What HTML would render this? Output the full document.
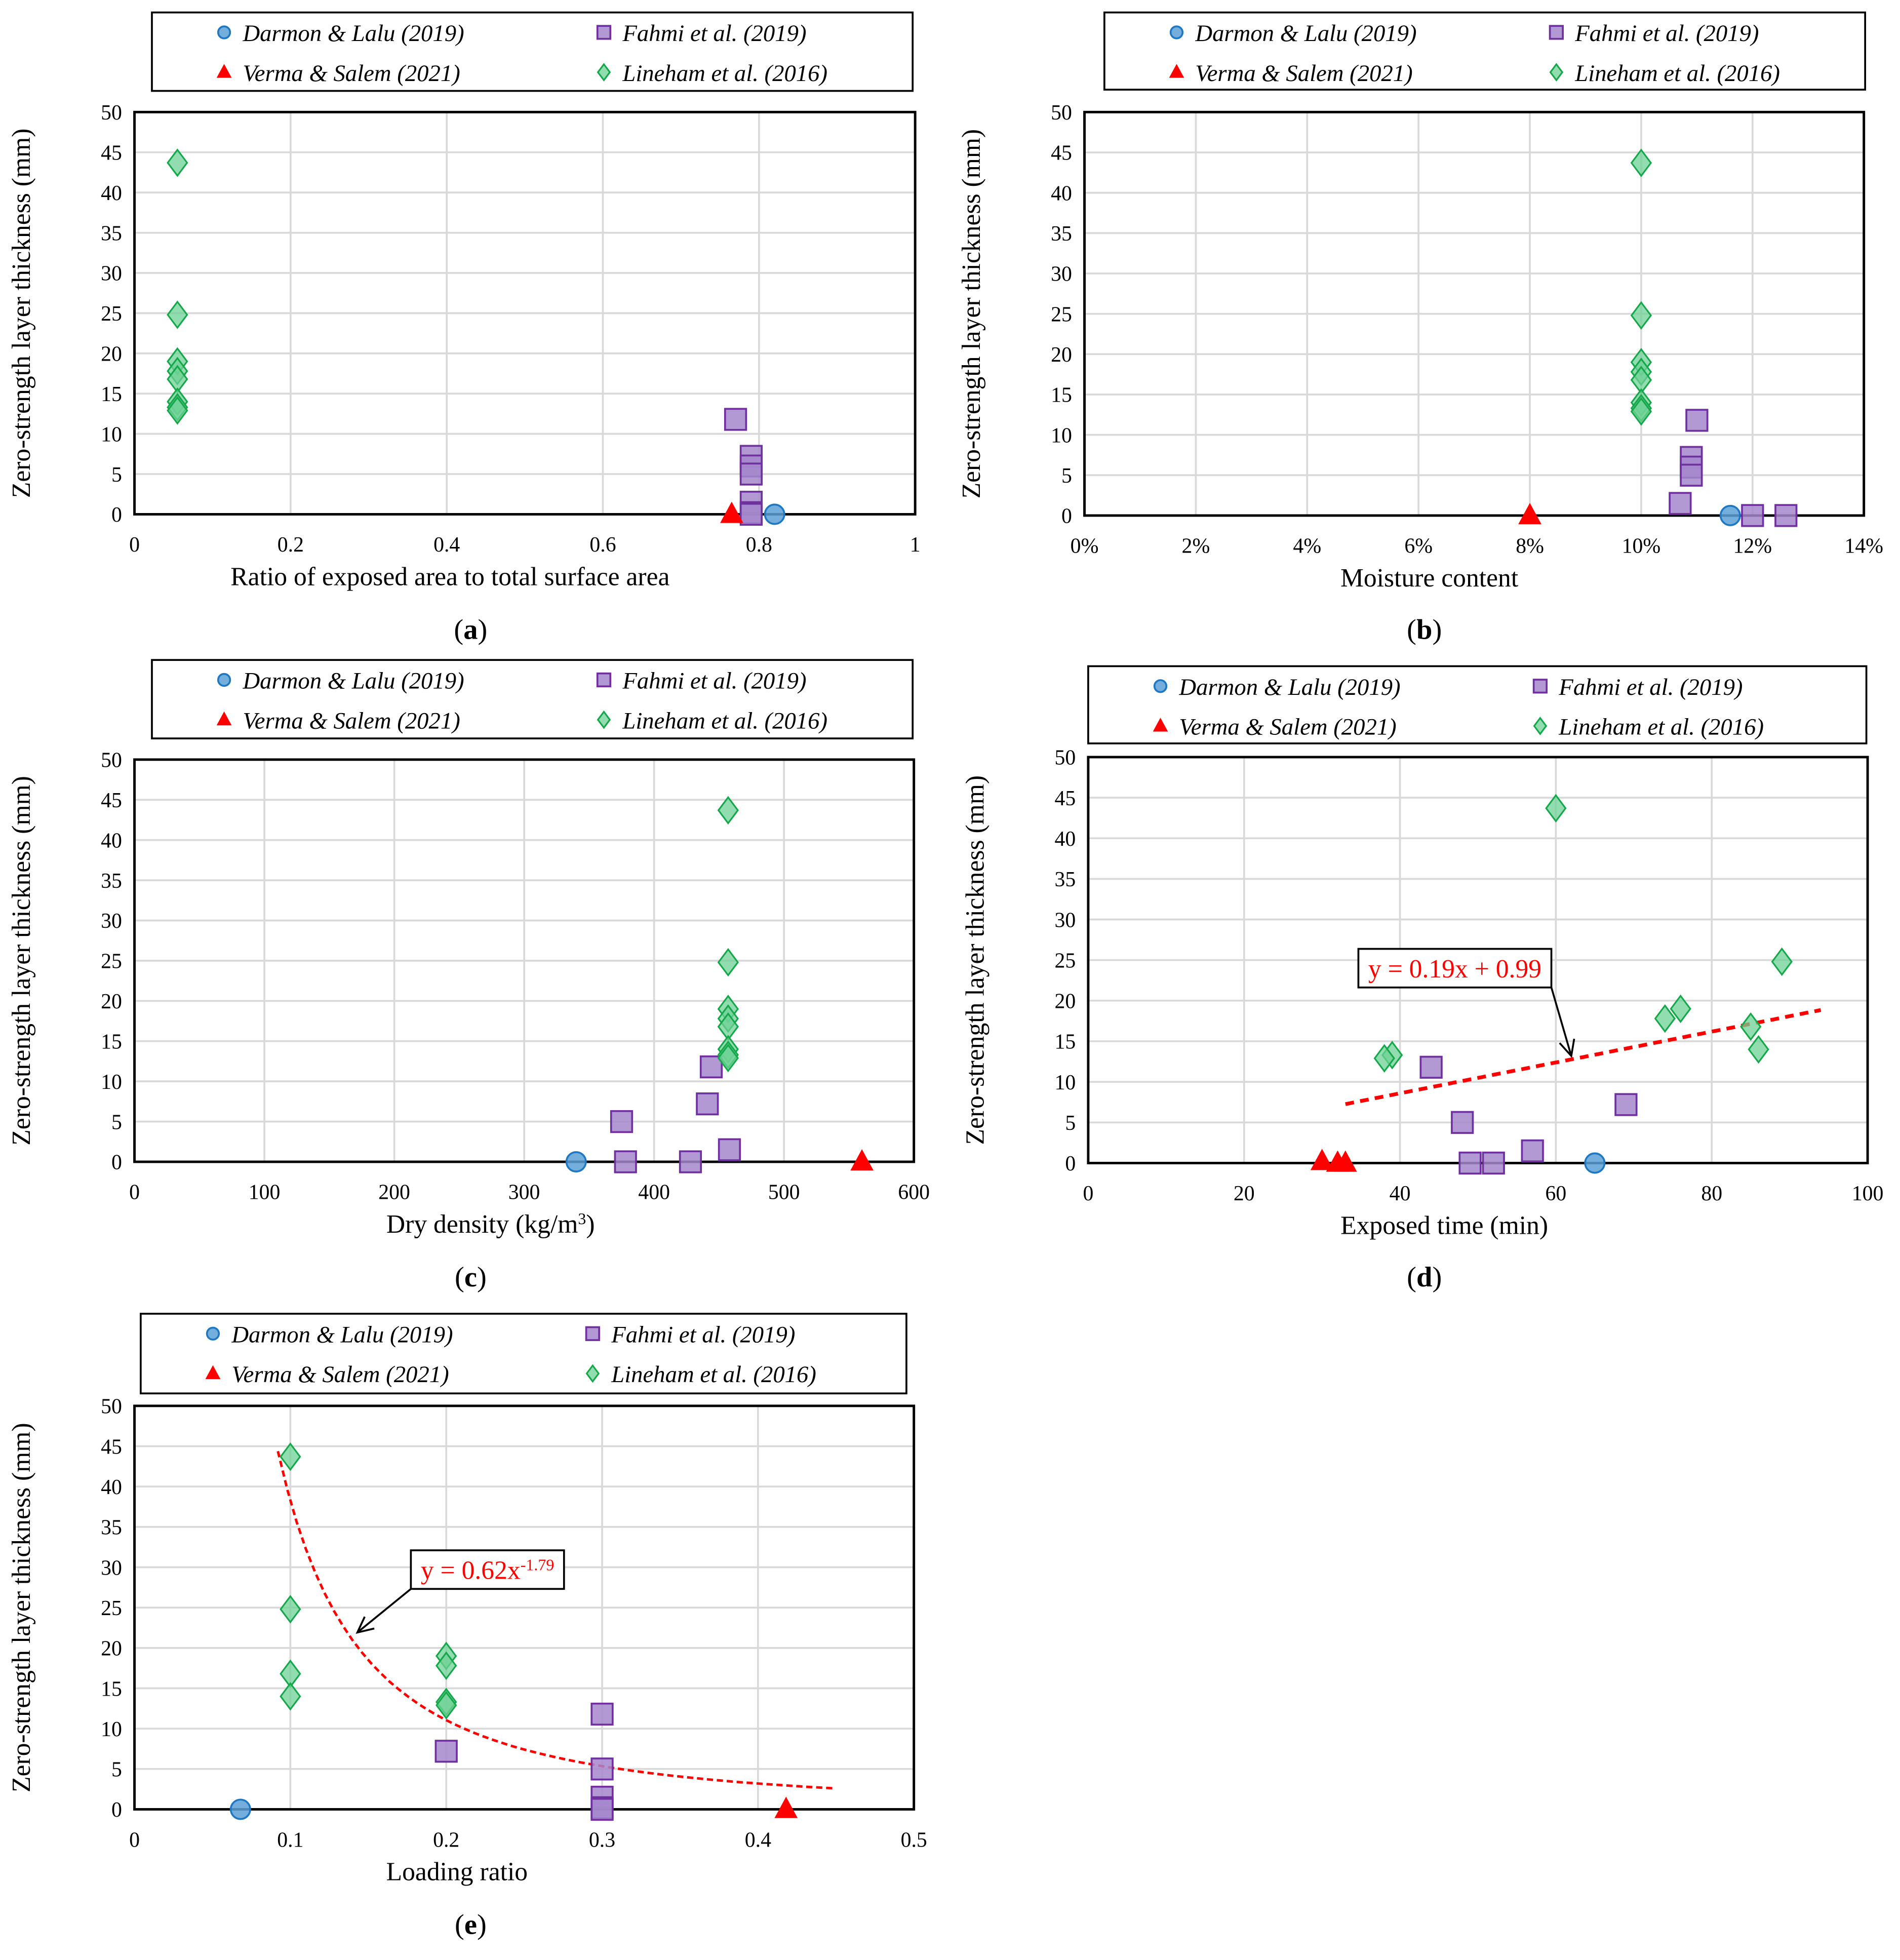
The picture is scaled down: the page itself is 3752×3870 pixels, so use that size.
<!DOCTYPE html>
<html><head><meta charset="utf-8"><style>
html,body{margin:0;padding:0;background:#fff;}
svg{display:block;}
text{font-family:"Liberation Serif","Times New Roman",serif;fill:#000;}
</style></head><body>
<svg id="fig" width="3752" height="3870" viewBox="0 0 1526 1574" xmlns="http://www.w3.org/2000/svg">
<rect width="1526" height="1574" fill="#fff"/>
</svg>
<script>
// ---- data ----
const aDarmon=[[0.82,0]];
const aFahmi=[[0.77,11.8],[0.79,7.2],[0.79,6],[0.79,5],[0.79,1.5],[0.79,0.2],[0.79,0]];
const aVerma=[[0.765,0]];
const aLineham=[[0.055,43.7],[0.055,24.8],[0.055,19],[0.055,17.8],[0.055,16.8],[0.055,14],[0.055,13.3],[0.055,12.9]];

const bDarmon=[[0.116,0]];
const bFahmi=[[0.11,11.8],[0.109,7.2],[0.109,6],[0.109,5],[0.107,1.5],[0.12,0],[0.126,0]];
const bVerma=[[0.08,0]];
const bLineham=[[0.10,43.7],[0.10,24.8],[0.10,19],[0.10,17.8],[0.10,16.8],[0.10,14],[0.10,13.3],[0.10,12.9]];

const cDarmon=[[340,0]];
const cFahmi=[[375,5],[378,0],[428,0],[441,7.2],[444,11.8],[458,1.5]];
const cVerma=[[560,0]];
const cLineham=[[457,43.7],[457,24.8],[457,19],[457,17.8],[457,16.8],[457,14],[457,13.3],[457,12.9]];

const dDarmon=[[65,0]];
const dFahmi=[[44,11.8],[69,7.2],[48,5],[57,1.5],[49,0],[52,0]];
const dVerma=[[30,0.2],[32,0],[33,0]];
const dLineham=[[60,43.7],[89,24.8],[76,19],[74,17.8],[85,16.8],[86,14],[39,13.3],[38,12.9]];
const dTrend=[0.19,0.99];

const eDarmon=[[0.068,0]];
const eFahmi=[[0.2,7.2],[0.3,11.8],[0.3,5],[0.3,1.5],[0.3,0.2],[0.3,0]];
const eVerma=[[0.418,0]];
const eLineham=[[0.1,43.7],[0.1,24.8],[0.1,16.8],[0.1,14],[0.2,19],[0.2,17.8],[0.2,13.3],[0.2,12.9]];
const eTrend=[0.62,-1.79];

const yTicks=[0,5,10,15,20,25,30,35,40,45,50];
const aTicks=[0,0.2,0.4,0.6,0.8,1];
const aTickLabels=["0","0.2","0.4","0.6","0.8","1"];
const bTicks=[0,0.02,0.04,0.06,0.08,0.10,0.12,0.14];
const bTickLabels=["0%","2%","4%","6%","8%","10%","12%","14%"];
const cTicks=[0,100,200,300,400,500,600];
const cTickLabels=["0","100","200","300","400","500","600"];
const dTicks=[0,20,40,60,80,100];
const dTickLabels=["0","20","40","60","80","100"];
const eTicks=[0,0.1,0.2,0.3,0.4,0.5];
const eTickLabels=["0","0.1","0.2","0.3","0.4","0.5"];

const NS="http://www.w3.org/2000/svg";
const svg=document.getElementById('fig');
function mk(tag,attrs,parent){const e=document.createElementNS(NS,tag);for(const k in attrs)e.setAttribute(k,attrs[k]);(parent||svg).appendChild(e);return e;}

function marker(g,type,x,y,s){
  let e;
  if(type==='circle'){e=mk('circle',{cx:x,cy:y,r:6*s,fill:'rgba(91,160,214,0.85)',stroke:'#1f78c1','stroke-width':1.5},g);}
  else if(type==='square'){e=mk('rect',{x:x-6.5*s,y:y-6.5*s,width:13*s,height:13*s,fill:'rgba(165,135,205,0.85)',stroke:'#7030a0','stroke-width':1.5},g);}
  else if(type==='tri'){e=mk('path',{d:`M${x} ${y-7*s}L${x+6.5*s} ${y+5*s}L${x-6.5*s} ${y+5*s}Z`,fill:'#ff0000',stroke:'#ff0000','stroke-width':1},g);}
  else {e=mk('path',{d:`M${x} ${y-8*s}L${x+6*s} ${y}L${x} ${y+8*s}L${x-6*s} ${y}Z`,fill:'rgba(110,210,150,0.75)',stroke:'#15a84a','stroke-width':1.3},g);}
  return e;
}

function panel(p){
  const g=mk('g',{});
  
  
  const {x0,x1,y0,y1,xmin,xmax}=p;
  const sx=v=>x0+(v-xmin)/(xmax-xmin)*(x1-x0);
  const sy=v=>y1-v/50*(y1-y0);
  yTicks.forEach(t=>{if(t>0){const l=mk('line',{x1:x0,x2:x1,y1:sy(t),y2:sy(t),stroke:'#d9d9d9','stroke-width':1.5},g);}
    const tx=mk('text',{x:x0-10,y:sy(t)+6,'text-anchor':'end','font-size':17},g);tx.textContent=t;
    });
  p.ticks.forEach((t,i)=>{if(i>0&&i<p.ticks.length-1){const l=mk('line',{x1:sx(t),x2:sx(t),y1:y0,y2:y1,stroke:'#d9d9d9','stroke-width':1.5},g);}
    const tx=mk('text',{x:sx(t),y:y1+30,'text-anchor':'middle','font-size':17},g);tx.textContent=p.labels[i];
    });
  const fr=mk('rect',{x:x0,y:y0,width:x1-x0,height:y1-y0,fill:'none',stroke:'#000','stroke-width':2},g);
  
  if(p.trend){
    let d='';
    for(let i=0;i<=60;i++){const xv=p.trend.from+(p.trend.to-p.trend.from)*i/60;const yv=p.trend.f(xv);d+=(i?'L':'M')+sx(xv).toFixed(1)+' '+sy(yv).toFixed(1);}
    const tl=mk('path',{d:d,fill:'none',stroke:'#ff0000','stroke-width':p.trend.w,'stroke-dasharray':p.trend.dash},g);
    
  }
  const series=[['square',p.fahmi,'fahmi-point'],['tri',p.verma,'verma-point'],['diamond',p.lineham,'lineham-point'],['circle',p.darmon,'darmon-point']];
  series.forEach(([t,data,name])=>data.forEach(pt=>{const m=marker(g,t,sx(pt[0]),sy(pt[1]),1.3);
    }));
  if(p.ann){
    const a=p.ann;
    const r=mk('rect',{x:a.bx,y:a.by,width:a.bw,height:31,fill:'#fff',stroke:'#000','stroke-width':1.5},g);
    
    const t=mk('text',{x:a.bx+a.bw/2,y:a.by+23,'text-anchor':'middle','font-size':21,style:'fill:#ff0000'},g);
    t.innerHTML=a.html;
    
    const ar=mk('path',{d:`M${a.ax1} ${a.ay1}L${a.ax2} ${a.ay2}`,stroke:'#000','stroke-width':1.5,fill:'none'},g);
    
    const ang=Math.atan2(a.ay2-a.ay1,a.ax2-a.ax1);
    const h=(o)=>[a.ax2-14*Math.cos(ang+o),a.ay2-14*Math.sin(ang+o)];
    const p1=h(0.45),p2=h(-0.45);
    mk('path',{d:`M${p1[0]} ${p1[1]}L${a.ax2} ${a.ay2}L${p2[0]} ${p2[1]}`,stroke:'#000','stroke-width':1.5,fill:'none'},g);
  }
  const yl=mk('text',{x:0,y:0,'text-anchor':'middle','font-size':21,transform:`translate(${x0-84},${(y0+y1)/2}) rotate(-90)`},g);
  yl.textContent='Zero-strength layer thickness (mm)';
  
  const xl=mk('text',{x:(x0+x1)/2+p.xlOff,y:y1+57,'text-anchor':'middle','font-size':21},g);
  xl.innerHTML=p.xlabel;
  
  const pl=mk('text',{x:p.lx,y:p.ly,'text-anchor':'middle','font-size':23},g);
  pl.innerHTML='(<tspan font-weight="bold">'+p.id+'</tspan>)';
  
  const L=p.leg;
  const lg=mk('g',{},g);
  
  mk('rect',{x:L.x,y:L.y,width:L.w,height:L.h,fill:'#fff',stroke:'#000','stroke-width':1.5},lg);
  const c1=L.x+58,c2=L.x+363,r1=L.y+16,r2=L.y+48;
  const ents=[['circle',c1,r1,'Darmon &amp; Lalu (2019)'],['square',c2,r1,'Fahmi et al. (2019)'],['tri',c1,r2,'Verma &amp; Salem (2021)'],['diamond',c2,r2,'Lineham et al. (2016)']];
  ents.forEach(([t,x,y,s])=>{const eg=mk('g',{},lg);
    marker(eg,t,x,y,0.8);const tt=mk('text',{x:x+15,y:y+7,'font-size':19,'font-style':'italic'},eg);tt.innerHTML=s;});
}

panel({id:'a',x0:108,x1:735,y0:90,y1:413,xmin:0,xmax:1,ticks:aTicks,labels:aTickLabels,
  darmon:aDarmon,fahmi:aFahmi,verma:aVerma,lineham:aLineham,xlabel:'Ratio of exposed area to total surface area',xlOff:-60,
  lx:378,ly:513,leg:{x:122,y:10,w:611,h:63}});
panel({id:'b',x0:871,x1:1497,y0:90,y1:414,xmin:0,xmax:0.14,ticks:bTicks,labels:bTickLabels,
  darmon:bDarmon,fahmi:bFahmi,verma:bVerma,lineham:bLineham,xlabel:'Moisture content',xlOff:-36,
  lx:1144,ly:513,leg:{x:887,y:10,w:611,h:62}});
panel({id:'c',x0:108,x1:734,y0:610,y1:933,xmin:0,xmax:600,ticks:cTicks,labels:cTickLabels,
  darmon:cDarmon,fahmi:cFahmi,verma:cVerma,lineham:cLineham,xlabel:'Dry density (kg/m<tspan baseline-shift="super" font-size="13">3</tspan>)',xlOff:-27,
  lx:378,ly:1033,leg:{x:122,y:530,w:611,h:63}});
panel({id:'d',x0:874,x1:1500,y0:608,y1:934,xmin:0,xmax:100,ticks:dTicks,labels:dTickLabels,
  darmon:dDarmon,fahmi:dFahmi,verma:dVerma,lineham:dLineham,xlabel:'Exposed time (min)',xlOff:-27,
  lx:1144,ly:1033,leg:{x:874,y:535,w:625,h:62},
  trend:{from:33,to:94,f:x=>dTrend[0]*x+dTrend[1],w:3,dash:'7 5'},
  ann:{bx:1091,by:762,bw:155,html:'y = 0.19x + 0.99',ax1:1246,ay1:793,ax2:1262,ay2:848}});
panel({id:'e',x0:108,x1:734,y0:1129,y1:1453,xmin:0,xmax:0.5,ticks:eTicks,labels:eTickLabels,
  darmon:eDarmon,fahmi:eFahmi,verma:eVerma,lineham:eLineham,xlabel:'Loading ratio',xlOff:-54,
  lx:378,ly:1553,leg:{x:113,y:1055,w:615,h:64},
  trend:{from:0.092,to:0.45,f:x=>eTrend[0]*Math.pow(x,eTrend[1]),w:2,dash:'5 3'},
  ann:{bx:330,by:1245,bw:123,html:'y = 0.62x<tspan baseline-shift="super" font-size="13">-1.79</tspan>',ax1:330,ay1:1276,ax2:287,ay2:1311}});
</script>
</body></html>
